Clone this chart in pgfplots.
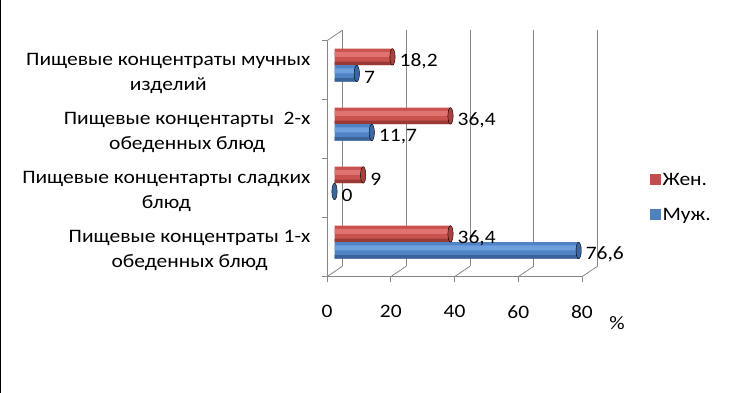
\documentclass[border=0pt]{standalone}
\usepackage{pgfplots}
\pgfplotsset{compat=1.18}
\usepackage{fontspec}
\setmainfont{Carlito}[FakeStretch=1.13]
\definecolor{rbase}{HTML}{C9524E}
\definecolor{rhi}{HTML}{E0736F}
\definecolor{rlo}{HTML}{993A37}
\definecolor{rcap}{HTML}{A9423F}
\definecolor{bbase}{HTML}{4F83C4}
\definecolor{bhi}{HTML}{6FA0DE}
\definecolor{blo}{HTML}{3A6499}
\definecolor{bcap}{HTML}{3A66A2}
\definecolor{rleg}{HTML}{C0504D}
\definecolor{bleg}{HTML}{4F81BD}
\definecolor{gridc}{HTML}{868686}
\newcommand{\bigf}{\fontsize{19}{25}\selectfont}
\begin{document}
\begin{tikzpicture}
\useasboundingbox (0pt,0pt) rectangle (731pt,393pt);
\draw[black, line width=1.2pt] (0.6pt,0pt) -- (0.6pt,393pt);
\begin{axis}[
  at={(327pt,116.3pt)}, anchor=south west,
  scale only axis, width=255pt, height=236pt,
  xmin=0, xmax=80, ymin=-0.5, ymax=3.5,
  clip=false,
  axis line style={draw=none},
  tick align=outside, major tick length=5pt,
  tick style={gridc, line width=0.8pt},
  xtick={0,20,40,60,80}, xtick pos=bottom,
  ytick={-0.5,0.5,1.5,2.5,3.5}, yticklabels={}, ytick pos=left,
  extra y ticks={0,1,2,3},
  extra y tick labels={{Пищевые концентраты 1-х\\обеденных блюд},{Пищевые концентарты сладких\\блюд},{Пищевые концентарты~ 2-х\\обеденных блюд},{Пищевые концентраты мучных\\изделий}},
  extra y tick style={major tick length=0pt, yticklabel style={align=center, font=\bigf, xshift=-13pt, yshift=-3pt}},
  xticklabel style={font=\bigf, anchor=north, yshift=-20pt},
  /pgf/number format/assume math mode=true,
  /pgf/number format/use comma,
  /pgf/number format/fixed,
  xlabel={\%},
  xlabel style={at={(axis description cs:1.137,-0.195)}, anchor=center, font=\bigf},
  legend style={draw=none, fill=none, at={(axis description cs:1.255,0.335)}, anchor=west, font=\bigf, row sep=18pt},
  legend cell align=left,
  legend image code/.code={\fill[#1] (0pt,-4pt) rectangle (10pt,6pt);},
]
% back wall gridlines and floor
\pgfplotsinvokeforeach{0,20,40,60,80}{
  \draw[gridc, line width=0.8pt] ([shift={(15.5pt,10.5pt)}]axis cs:#1,-0.5) -- ([shift={(15.5pt,10.5pt)}]axis cs:#1,3.5);
  \draw[gridc, line width=0.8pt] (axis cs:#1,-0.5) -- ([shift={(15.5pt,10.5pt)}]axis cs:#1,-0.5);
}
\draw[gridc, line width=0.8pt] (axis cs:0,3.5) -- ([shift={(15.5pt,10.5pt)}]axis cs:0,3.5);
\draw[gridc, line width=0.8pt] (axis cs:0,3.5) -- (axis cs:0,-0.5) -- (axis cs:80,-0.5);

\addlegendimage{rleg}\addlegendentry{Жен.}
\addlegendimage{bleg}\addlegendentry{Муж.}

% Жен. (cylinder: base, highlight band, shadow band)
\addplot[xbar, bar width=16.5pt, bar shift=13.3pt, draw=none, fill=rbase, xshift=7.5pt, forget plot]
  coordinates {(36.4,0) (9,1) (36.4,2) (18.2,3)};
\addplot[xbar, bar width=5pt, bar shift=15.8pt, draw=none, fill=rhi, xshift=7.5pt, forget plot]
  coordinates {(36.4,0) (9,1) (36.4,2) (18.2,3)};
\addplot[xbar, bar width=3.5pt, bar shift=6.8pt, draw=none, fill=rlo, xshift=7.5pt, forget plot]
  coordinates {(36.4,0) (9,1) (36.4,2) (18.2,3)};
% Муж. (the 0 value is shown by its end cap only)
\addplot[xbar, bar width=16.5pt, bar shift=-3.3pt, draw=none, fill=bbase, xshift=7.5pt, forget plot]
  coordinates {(76.6,0) (11.7,2) (7,3)};
\addplot[xbar, bar width=5pt, bar shift=-0.8pt, draw=none, fill=bhi, xshift=7.5pt, forget plot]
  coordinates {(76.6,0) (11.7,2) (7,3)};
\addplot[xbar, bar width=3.5pt, bar shift=-9.8pt, draw=none, fill=blo, xshift=7.5pt, forget plot]
  coordinates {(76.6,0) (11.7,2) (7,3)};
% end caps with value labels
\addplot[only marks, mark=*, mark size=8.25pt, mark options={xscale=0.32, fill=rcap, draw=none}, xshift=7.5pt, yshift=13.3pt,
  point meta=x, nodes near coords, nodes near coords style={anchor=west, font=\bigf, inner sep=1pt, xshift=6pt, yshift=-4pt, text=black}, forget plot]
  coordinates {(36.4,0) (9,1) (36.4,2) (18.2,3)};
\addplot[only marks, mark=*, mark size=8.25pt, mark options={xscale=0.32, fill=bcap, draw=none}, xshift=7.5pt, yshift=-3.3pt,
  point meta=x, nodes near coords, nodes near coords style={anchor=west, font=\bigf, inner sep=1pt, xshift=6pt, yshift=-4pt, text=black}, forget plot]
  coordinates {(76.6,0) (0,1) (11.7,2) (7,3)};
\end{axis}
\end{tikzpicture}
\end{document}
